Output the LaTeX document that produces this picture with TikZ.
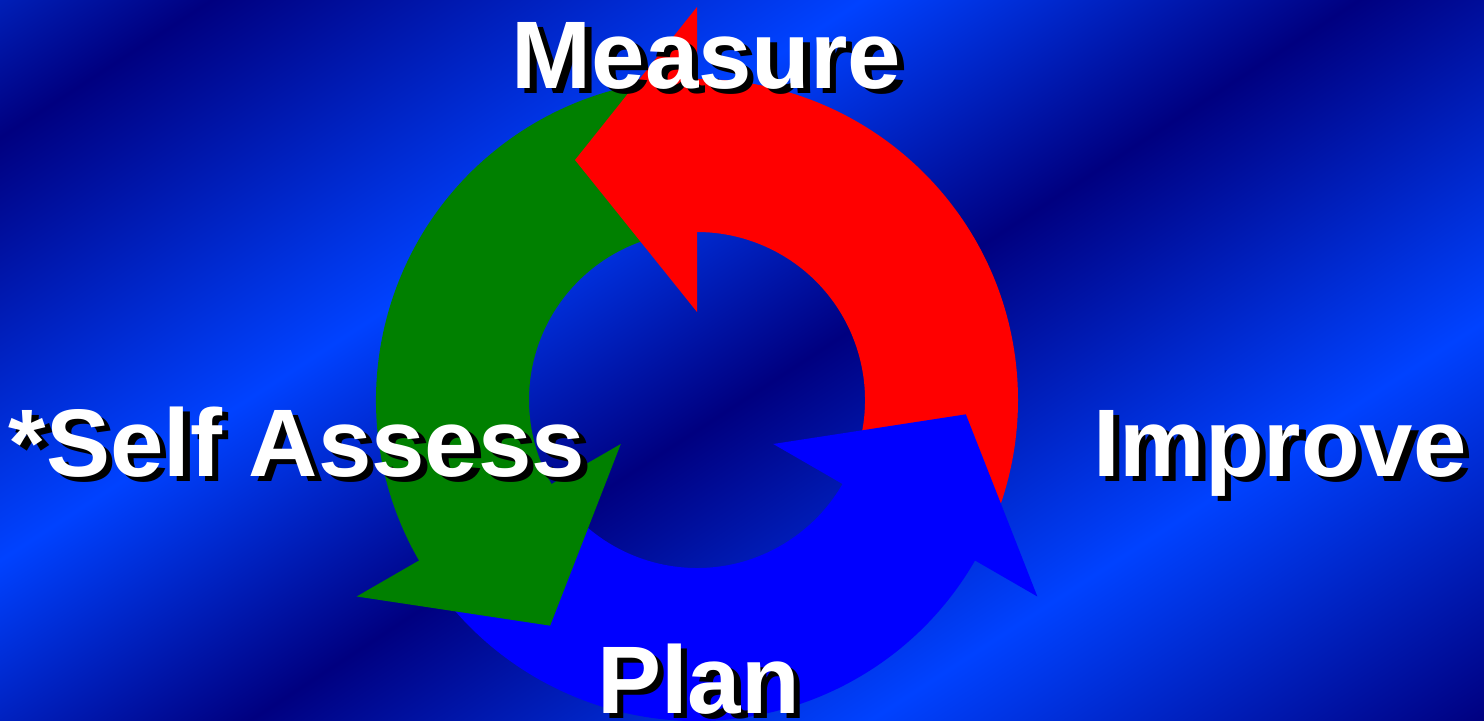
\documentclass[tikz,border=0pt]{standalone}
\usepackage{fontspec}
\setmainfont{Liberation Sans}
\definecolor{bgdark}{RGB}{0,0,128}
\definecolor{bgbright}{RGB}{0,66,255}
\definecolor{bgmid}{RGB}{0,36,192}
\definecolor{arrRed}{RGB}{255,0,0}
\definecolor{arrGreen}{RGB}{0,128,0}
\definecolor{arrBlue}{RGB}{0,0,255}
\pgfdeclarehorizontalshading{bgshade}{2600bp}{color(0bp)=(bgmid); color(135bp)=(bgdark); color(490bp)=(bgbright); color(760bp)=(bgdark); color(1098bp)=(bgbright); color(1433bp)=(bgdark); color(1600bp)=(bgdark)}
\tikzset{
  lbl/.style={font=\fontsize{96bp}{96bp}\selectfont\bfseries, inner sep=0pt, outer sep=0pt, anchor=base},
  lblshadow/.style={lbl, text=black},
  lbltext/.style={lbl, text=white}
}
% ring body: colour, start angle, end angle
\newcommand{\RingBody}[3]{%
  \fill[#1] (#2:168) arc[start angle=#2, end angle=#3, radius=168] -- (#3:321) arc[start angle=#3, end angle=#2, radius=321] -- cycle;}
% arrow head: colour, base angle
\newcommand{\RingHead}[2]{%
  \fill[#1, rotate=#2] (88,0) -- (393,0) -- (240,122) -- cycle;}
\begin{document}
\begin{tikzpicture}[x=1bp,y=1bp]
\useasboundingbox (0,0) rectangle (1484,721);
\begin{scope}
  \clip (0,0) rectangle (1484,721);
  \node[inner sep=0pt, outer sep=0pt, rotate=-57, anchor=west] (bg) at (-10.9,737.8) {\pgfuseshading{bgshade}};
\end{scope}
\coordinate (C) at (697,321);
\begin{scope}[shift={(C)}]
  \RingBody{arrRed}{-28}{94}
  \RingBody{arrGreen}{92}{214}
  \RingBody{arrBlue}{212}{334}
  \RingHead{arrRed}{90}
  \RingHead{arrGreen}{210}
  \RingHead{arrBlue}{330}
\end{scope}
\node[lblshadow] (measureShadow) at (713,627) {Measure};
\node[lbltext] (measure) at (706.5,632) {Measure};
\node[lblshadow] (selfShadow) at (303.5,239) {*Self Assess};
\node[lbltext] (self) at (297,244) {*Self Assess};
\node[lblshadow] (improveShadow) at (1286.5,239) {Improve};
\node[lbltext] (improve) at (1280,244) {Improve};
\node[lblshadow] (planShadow) at (705,2) {Plan};
\node[lbltext] (plan) at (698.5,7) {Plan};
\end{tikzpicture}
\end{document}
